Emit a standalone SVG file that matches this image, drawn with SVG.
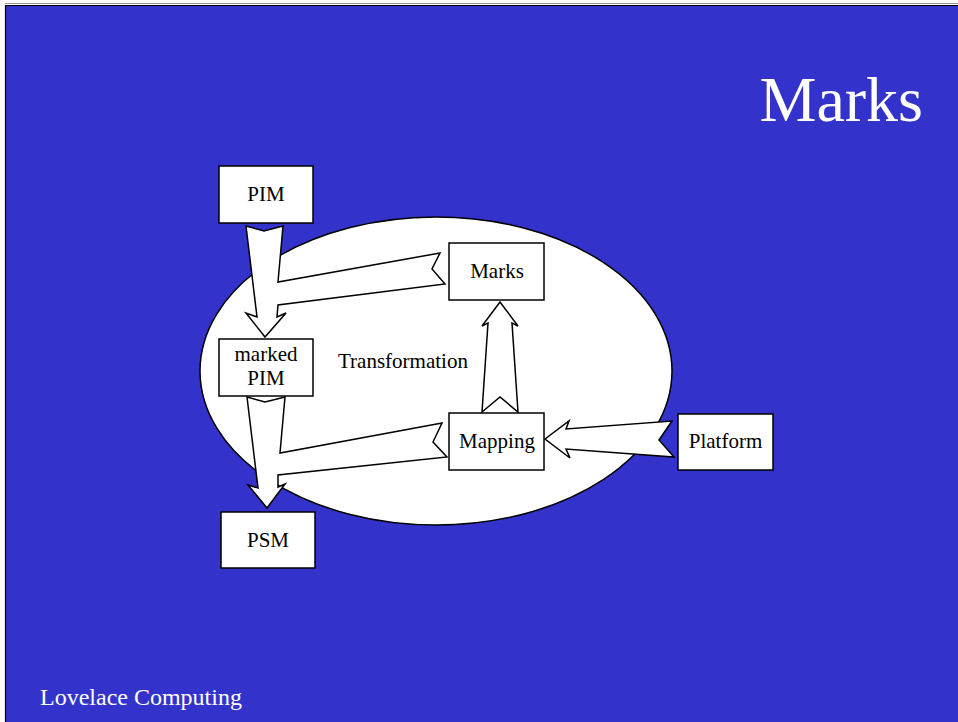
<svg xmlns="http://www.w3.org/2000/svg" width="958" height="722" viewBox="0 0 958 722">
<style>
.box{fill:#fff;stroke:#000;stroke-width:1.5}
.arr{fill:#fff;stroke:#000;stroke-width:1.5;stroke-linejoin:miter}
.lbl{font-family:"Liberation Serif","Times New Roman",serif;font-size:21px;fill:#000}
.ttl{font-family:"Liberation Serif","Times New Roman",serif;fill:#fff}
</style>
<rect x="0" y="0" width="958" height="722" fill="#fff"/>
<rect x="5" y="5" width="953" height="717" fill="#3333CC"/>
<line x1="5" y1="3.5" x2="958" y2="3.5" stroke="#999" stroke-width="1"/>
<line x1="5" y1="5.5" x2="958" y2="5.5" stroke="#000" stroke-width="1.2"/>
<line x1="5.5" y1="5" x2="5.5" y2="722" stroke="#000" stroke-width="1.2"/>
<text class="ttl" x="923" y="121" font-size="64" text-anchor="end">Marks</text>
<text class="ttl" x="40" y="705" font-size="24">Lovelace Computing</text>
<g id="transformation">
<ellipse cx="436" cy="371" rx="236" ry="154" fill="#fff" stroke="#000" stroke-width="1.5"/>
<text class="lbl" x="338" y="368">Transformation</text>
</g>
<g id="connectors">
<polygon class="arr" points="246,226 264,231 283,226 278,282 440,253 432,269 445,284 278,305 277,317 286,313 265,337 246,313 257,317"/>
<polygon class="arr" points="247,397 265,402 285,397 280,453 442,423 433,442 447,457 278,475 278,487 285,484 267,508 248,485 258,488"/>
<polygon class="arr" points="482,412 500,397 518,412 512,323 518,326 500,302 482,326 488,323"/>
<polygon class="arr" points="545,439 569,421 566,429 672,421 659,440 674,457 566,449 570,458"/>
</g>
<g id="pim"><rect class="box" x="219" y="166" width="94" height="57"/><text class="lbl" x="266" y="201" text-anchor="middle">PIM</text></g>
<g id="marked-pim"><rect class="box" x="219" y="339" width="94" height="57"/><text class="lbl" x="266" y="361" text-anchor="middle">marked</text><text class="lbl" x="266" y="385" text-anchor="middle">PIM</text></g>
<g id="psm"><rect class="box" x="221" y="512" width="94" height="56"/><text class="lbl" x="268" y="547" text-anchor="middle">PSM</text></g>
<g id="marks"><rect class="box" x="449" y="243" width="95" height="57"/><text class="lbl" x="497" y="278" text-anchor="middle">Marks</text></g>
<g id="mapping"><rect class="box" x="449" y="413" width="95" height="57"/><text class="lbl" x="497" y="448" text-anchor="middle">Mapping</text></g>
<g id="platform"><rect class="box" x="678" y="414" width="95" height="56"/><text class="lbl" x="725.5" y="448" text-anchor="middle">Platform</text></g>
</svg>
